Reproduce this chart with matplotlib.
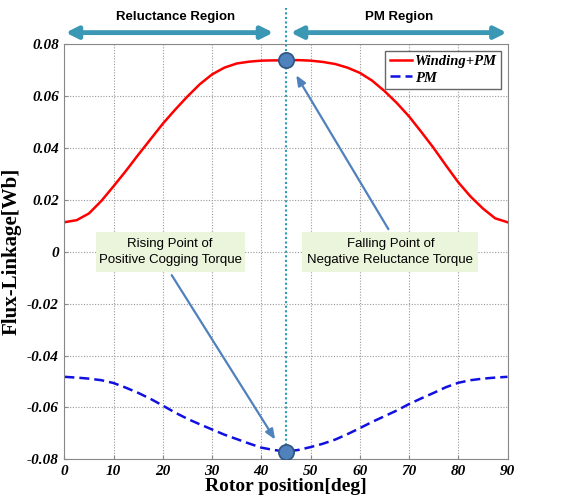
import numpy as np
import matplotlib.pyplot as plt
from matplotlib.patches import Rectangle

# rotor position [deg]
angle = [0, 2.5, 5, 7.5, 10, 12.5, 15, 17.5, 20, 22.5, 25, 27.5, 30, 32.5, 35, 37.5, 40, 42.5, 45,
         47.5, 50, 52.5, 55, 57.5, 60, 62.5, 65, 67.5, 70, 72.5, 75, 77.5, 80, 82.5, 85, 87.5, 90]
# flux linkage [Wb]
winding_pm = [0.0114, 0.0122, 0.0148, 0.0196, 0.0253, 0.0312, 0.0374, 0.0434, 0.0494, 0.0548,
              0.0599, 0.0646, 0.0684, 0.0710, 0.0726, 0.0733, 0.0737, 0.0738, 0.0738,
              0.0739, 0.0737, 0.0732, 0.0724, 0.0710, 0.0690, 0.0660, 0.0620, 0.0574,
              0.0522, 0.0462, 0.0400, 0.0333, 0.0268, 0.0213, 0.0167, 0.0129, 0.0114]
pm_only = [-0.0482, -0.0485, -0.0489, -0.0495, -0.0506, -0.0524, -0.0544, -0.0567, -0.0593, -0.0620,
           -0.0644, -0.0665, -0.0685, -0.0705, -0.0722, -0.0739, -0.0755, -0.0764, -0.0770,
           -0.0764, -0.0753, -0.0740, -0.0724, -0.0703, -0.0680, -0.0656, -0.0634, -0.0612,
           -0.0587, -0.0565, -0.0544, -0.0522, -0.0505, -0.0495, -0.0489, -0.0485, -0.0482]
xticks = [0, 10, 20, 30, 40, 50, 60, 70, 80, 90]
yticks = [-0.08, -0.06, -0.04, -0.02, 0, 0.02, 0.04, 0.06, 0.08]
ytick_labels = ["-0.08", "-0.06", "-0.04", "-0.02", "0", "0.02", "0.04", "0.06", "0.08"]

serif = ["Liberation Serif", "DejaVu Serif"]
sans = ["Liberation Sans", "DejaVu Sans"]

fig = plt.figure(figsize=(5.8, 5.0), dpi=100)
ax = fig.add_axes([0.111, 0.0814, 0.764, 0.83])

ax.plot(angle, winding_pm, color="#ff0000", lw=1.8, label="Winding+PM")
ax.plot(angle, pm_only, color="#1010e0", lw=1.8, ls=(0, (4, 2)), label="PM")

ax.set_xlim(0, 90)
ax.set_ylim(-0.08, 0.08)
ax.set_xticks(xticks)
ax.set_yticks(yticks)
ax.set_xticklabels([str(t) for t in xticks], family=serif, fontweight="bold", style="italic", fontsize=11)
ax.set_yticklabels(ytick_labels, family=serif, fontweight="bold", style="italic", fontsize=11)
ax.tick_params(direction="in", length=3, color="#888888", pad=4)
ax.grid(True, ls=(0, (1, 1.5)), color="#999999", lw=0.8)
for s in ax.spines.values():
    s.set_color("#888888")

ax.set_xlabel("Rotor position[deg]", family=serif, fontweight="bold", fontsize=14, labelpad=0)
ax.set_ylabel("Flux-Linkage[Wb]", family=serif, fontweight="bold", fontsize=15, labelpad=4)

# region divider
ax.plot([45, 45], [-0.08, 0.094], color="#2a9db0", lw=1.5, ls=(0, (1, 1.2)), clip_on=False, zorder=1)

# region arrows above the axes
ax.annotate("", xy=(-0.3, 0.0845), xytext=(43.0, 0.0845), annotation_clip=False,
            arrowprops=dict(arrowstyle="<|-|>,head_length=0.7,head_width=0.35", color="#3a98b5", lw=3.5))
ax.annotate("", xy=(45.4, 0.0845), xytext=(90.4, 0.0845), annotation_clip=False,
            arrowprops=dict(arrowstyle="<|-|>,head_length=0.7,head_width=0.35", color="#3a98b5", lw=3.5))
ax.text(22.5, 0.0905, "Reluctance Region", ha="center", va="center", family=sans,
        fontweight="bold", fontsize=9.5)
ax.text(68.0, 0.0905, "PM Region", ha="center", va="center", family=sans,
        fontweight="bold", fontsize=9.5)

# points of interest
ax.plot([45, 45], [0.0738, -0.0770], ls="none", marker="o", ms=11, mfc="#4f81bd",
        mec="#2f5580", mew=1.2, zorder=5)

ax.add_patch(Rectangle((6.4, -0.0076), 30.3, 0.0154, fc="#ebf5dc", ec="none", zorder=4))
ax.add_patch(Rectangle((48.2, -0.0076), 35.9, 0.0154, fc="#ebf5dc", ec="none", zorder=4))
ax.text(21.5, 0.0, "Rising Point of\nPositive Cogging Torque", ha="center", va="center",
        family=sans, fontsize=9.5, linespacing=1.4, zorder=5)
ax.text(66.2, 0.0, "Falling Point of\nNegative Reluctance Torque", ha="center", va="center",
        family=sans, fontsize=9.5, linespacing=1.4, zorder=5)

ax.annotate("", xy=(43.1, -0.0733), xytext=(21.5, -0.0081),
            arrowprops=dict(arrowstyle="-|>,head_length=0.6,head_width=0.25", color="#4f81bd", lw=1.6))
ax.annotate("", xy=(46.8, 0.069), xytext=(66.1, 0.0078),
            arrowprops=dict(arrowstyle="-|>,head_length=0.6,head_width=0.25", color="#4f81bd", lw=1.6))

leg = ax.legend(loc="upper right", prop=dict(family=serif, weight="bold", style="italic", size=10.5),
                handlelength=1.5, handletextpad=0.2, borderpad=0.3, labelspacing=0.2,
                fancybox=False, edgecolor="#666666", framealpha=1, borderaxespad=0.45)
leg.get_frame().set_linewidth(1.0)

fig.savefig("out.png", dpi=100)
